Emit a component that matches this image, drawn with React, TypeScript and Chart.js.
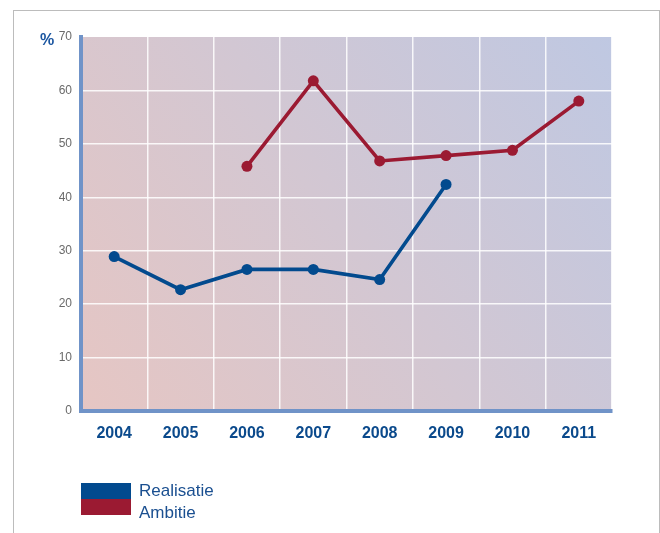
import React, { useEffect, useRef } from "react";
import { Chart, registerables } from "chart.js";

Chart.register(...registerables);

const years = ["2004", "2005", "2006", "2007", "2008", "2009", "2010", "2011"];
const realisatie = [28.9, 22.7, 26.5, 26.5, 24.6, 42.4, null, null];
const ambitie = [null, null, 45.8, 61.8, 46.8, 47.8, 48.8, 58.0];
const yTicks = [0, 10, 20, 30, 40, 50, 60, 70];

const BLUE = "#024a8e";
const RED = "#9b1a32";
const AXIS = "#7093c8";
const SANS = "'Liberation Sans', Arial, sans-serif";

const bgPlugin = {
  id: "bgGradient",
  beforeDraw(chart: any) {
    const { ctx, chartArea } = chart;
    if (!chartArea) return;
    const { left, top, right, bottom } = chartArea;
    const g = ctx.createLinearGradient(left, bottom, right, top);
    g.addColorStop(0, "#e6c6c3");
    g.addColorStop(1, "#bfc8e2");
    ctx.save();
    ctx.fillStyle = g;
    ctx.fillRect(left, top, right - left, bottom - top);
    ctx.restore();
  },
};

export default function App() {
  const ref = useRef<HTMLCanvasElement | null>(null);

  useEffect(() => {
    if (!ref.current) return;
    const chart = new Chart(ref.current, {
      type: "line",
      data: {
        labels: years,
        datasets: [
          {
            label: "Realisatie",
            data: realisatie,
            borderColor: BLUE,
            backgroundColor: BLUE,
            borderWidth: 3.6,
            pointRadius: 5.5,
            pointBorderWidth: 0,
            pointBackgroundColor: BLUE,
            tension: 0,
          },
          {
            label: "Ambitie",
            data: ambitie,
            borderColor: RED,
            backgroundColor: RED,
            borderWidth: 3.6,
            pointRadius: 5.5,
            pointBorderWidth: 0,
            pointBackgroundColor: RED,
            tension: 0,
          },
        ],
      },
      options: {
        responsive: false,
        animation: false,
        events: [],
        layout: { padding: { left: 0, top: 37, right: 48, bottom: 82 } },
        plugins: {
          legend: { display: false },
          tooltip: { enabled: false },
        },
        scales: {
          x: {
            type: "category",
            offset: true,
            afterFit: (s: any) => {
              s.height = 40;
            },
            grid: {
              offset: true,
              drawTicks: false,
              lineWidth: 1.5,
              color: (c: any) =>
                c.index === 0 || c.index === years.length ? "rgba(0,0,0,0)" : "rgba(255,255,255,0.85)",
            },
            border: { display: true, color: AXIS, width: 4 },
            ticks: {
              color: "#0b4a8c",
              padding: 13,
              font: { family: SANS, size: 16, weight: "bold" },
            },
          },
          y: {
            min: 0,
            max: 70,
            afterFit: (s: any) => {
              s.width = 81;
            },
            afterBuildTicks: (s: any) => {
              s.ticks = yTicks.map((v) => ({ value: v }));
            },
            grid: {
              drawTicks: false,
              lineWidth: 1.5,
              color: (c: any) =>
                c.tick && (c.tick.value === 70 || c.tick.value === 0)
                  ? "rgba(0,0,0,0)"
                  : "rgba(255,255,255,0.85)",
            },
            border: { display: true, color: AXIS, width: 4 },
            ticks: {
              color: "#6a6a6a",
              padding: 9,
              font: { family: SANS, size: 12 },
            },
          },
        },
      },
      plugins: [bgPlugin],
    } as any);
    return () => chart.destroy();
  }, []);

  return (
    <div style={{ position: "absolute", left: 0, top: 0, width: 660, height: 533, overflow: "hidden", background: "#fff" }}>
      <div
        style={{
          position: "absolute",
          left: 13,
          top: 10,
          width: 647,
          height: 540,
          border: "1.5px solid #bcbcbc",
          boxSizing: "border-box",
        }}
      />
      <canvas ref={ref} width={660} height={533} style={{ position: "absolute", left: 0, top: 0 }} />
      <div
        style={{
          position: "absolute",
          left: 40,
          top: 31,
          fontFamily: SANS,
          fontWeight: "bold",
          fontSize: 16,
          color: "#1a55a0",
          lineHeight: "18px",
        }}
      >
        %
      </div>
      <div style={{ position: "absolute", left: 81, top: 483, width: 50, height: 16, background: BLUE }} />
      <div style={{ position: "absolute", left: 81, top: 499, width: 50, height: 16, background: RED }} />
      <div
        style={{
          position: "absolute",
          left: 139,
          top: 480,
          fontFamily: SANS,
          fontSize: 17,
          color: "#1a4f90",
          lineHeight: "22px",
        }}
      >
        <div>Realisatie</div>
        <div>Ambitie</div>
      </div>
    </div>
  );
}
